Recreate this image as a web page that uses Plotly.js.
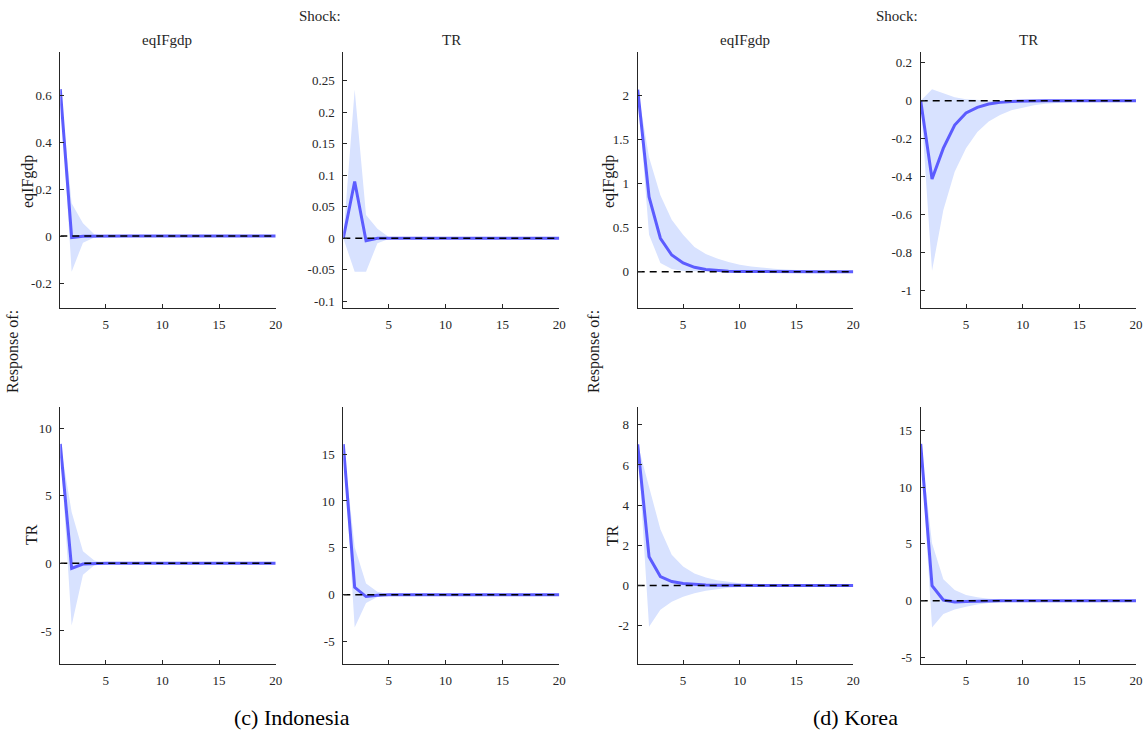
<!DOCTYPE html>
<html>
<head>
<meta charset="utf-8">
<script src="https://cdn.plot.ly/plotly-3.0.1.min.js"></script>
<style>
  html, body { margin: 0; padding: 0; background: #ffffff; }
  #chart { width: 1148px; height: 738px; }
</style>
</head>
<body>
<div id="chart"></div>
<script>
// ---------------- DATA ----------------
const periods = [1,2,3,4,5,6,7,8,9,10,11,12,13,14,15,16,17,18,19,20];
const variables = ["eqIFgdp", "TR"];
const countries = ["(c) Indonesia", "(d) Korea"];

// Indonesia: response of eqIFgdp to eqIFgdp shock
const idnEqEqMed = [0.625,-0.006,-0.001,0,0,0,0,0,0,0,0,0,0,0,0,0,0,0,0,0];
const idnEqEqLo  = [0.625,-0.152,-0.028,-0.006,-0.001,0,0,0,0,0,0,0,0,0,0,0,0,0,0,0];
const idnEqEqHi  = [0.625,0.14,0.054,0.008,0.001,0,0,0,0,0,0,0,0,0,0,0,0,0,0,0];
// Indonesia: response of eqIFgdp to TR shock
const idnEqTrMed = [0,0.09,-0.004,0,0,0,0,0,0,0,0,0,0,0,0,0,0,0,0,0];
const idnEqTrLo  = [0,-0.053,-0.053,-0.008,-0.001,0,0,0,0,0,0,0,0,0,0,0,0,0,0,0];
const idnEqTrHi  = [0,0.236,0.037,0.015,0.002,0,0,0,0,0,0,0,0,0,0,0,0,0,0,0];
// Indonesia: response of TR to eqIFgdp shock
const idnTrEqMed = [8.82,-0.37,-0.05,0,0,0,0,0,0,0,0,0,0,0,0,0,0,0,0,0];
const idnTrEqLo  = [8.82,-4.6,-0.85,-0.15,-0.02,0,0,0,0,0,0,0,0,0,0,0,0,0,0,0];
const idnTrEqHi  = [8.82,3.8,0.9,0.2,0.03,0,0,0,0,0,0,0,0,0,0,0,0,0,0,0];
// Indonesia: response of TR to TR shock
const idnTrTrMed = [16.07,0.78,-0.2,-0.05,0,0,0,0,0,0,0,0,0,0,0,0,0,0,0,0];
const idnTrTrLo  = [16.07,-3.5,-0.9,-0.25,-0.05,0,0,0,0,0,0,0,0,0,0,0,0,0,0,0];
const idnTrTrHi  = [16.07,5.1,1.2,0.3,0.05,0,0,0,0,0,0,0,0,0,0,0,0,0,0,0];

// Korea: response of eqIFgdp to eqIFgdp shock
const korEqEqMed = [2.07,0.85,0.38,0.19,0.10,0.05,0.025,0.012,0.006,0.003,0.0015,0.001,0,0,0,0,0,0,0,0];
const korEqEqLo  = [2.07,0.42,0.1,0.03,0.008,0.002,0.001,0,0,0,0,0,0,0,0,0,0,0,0,0];
const korEqEqHi  = [2.07,1.3,0.87,0.59,0.42,0.28,0.2,0.15,0.11,0.08,0.06,0.045,0.033,0.024,0.017,0.012,0.008,0.006,0.004,0.003];
// Korea: response of eqIFgdp to TR shock
const korEqTrMed = [0,-0.412,-0.25,-0.128,-0.065,-0.035,-0.018,-0.009,-0.004,-0.002,-0.001,0,0,0,0,0,0,0,0,0];
const korEqTrLo  = [0,-0.895,-0.575,-0.374,-0.25,-0.165,-0.11,-0.075,-0.05,-0.035,-0.024,-0.016,-0.011,-0.008,-0.005,-0.004,-0.003,-0.002,-0.001,-0.001];
const korEqTrHi  = [0,0.06,0.039,0.018,0.007,0.003,0.001,0,0,0,0,0,0,0,0,0,0,0,0,0];
// Korea: response of TR to eqIFgdp shock
const korTrEqMed = [7.03,1.44,0.45,0.2,0.1,0.05,0.025,0.012,0.006,0.003,0.0015,0,0,0,0,0,0,0,0,0];
const korTrEqLo  = [7.03,-2.05,-1.2,-0.8,-0.55,-0.38,-0.25,-0.17,-0.11,-0.07,-0.05,-0.033,-0.022,-0.015,-0.01,-0.007,-0.005,-0.003,-0.002,-0.001];
const korTrEqHi  = [7.03,4.9,2.8,1.53,0.95,0.6,0.4,0.27,0.18,0.12,0.08,0.05,0.035,0.024,0.016,0.011,0.008,0.005,0.004,0.003];
// Korea: response of TR to TR shock
const korTrTrMed = [13.82,1.33,0.06,-0.12,-0.08,-0.04,-0.02,-0.01,-0.005,-0.002,-0.001,0,0,0,0,0,0,0,0,0];
const korTrTrLo  = [13.82,-2.36,-1.18,-0.77,-0.53,-0.33,-0.2,-0.12,-0.07,-0.04,-0.025,-0.015,-0.009,-0.005,-0.003,-0.002,-0.001,-0.001,0,0];
const korTrTrHi  = [13.82,5.07,1.89,0.94,0.5,0.3,0.17,0.1,0.06,0.035,0.02,0.012,0.007,0.004,0.002,0.001,0.001,0,0,0];

// tick labels
const xTicks = [5,10,15,20];
const yTicksIdnEqEq = [-0.2,0,0.2,0.4,0.6];
const yTicksIdnEqTr = [-0.1,-0.05,0,0.05,0.1,0.15,0.2,0.25];
const yTicksIdnTrEq = [-5,0,5,10];
const yTicksIdnTrTr = [-5,0,5,10,15];
const yTicksKorEqEq = [0,0.5,1,1.5,2];
const yTicksKorEqTr = [-1,-0.8,-0.6,-0.4,-0.2,0,0.2];
const yTicksKorTrEq = [-2,0,2,4,6,8];
const yTicksKorTrTr = [-5,0,5,10,15];

// ---------------- LAYOUT ----------------
const W = 1148, H = 738;
const px = v => v / W;
const py = v => 1 - v / H;

const colX = [[60.3,275.7],[343.3,559.3],[637.7,853.3],[920.7,1136]];
const rowY = [[52,308],[407.3,664]];

const panels = [
  {col:0,row:0,med:idnEqEqMed,lo:idnEqEqLo,hi:idnEqEqHi,ticks:yTicksIdnEqEq,range:[-0.306,0.783]},
  {col:1,row:0,med:idnEqTrMed,lo:idnEqTrLo,hi:idnEqTrHi,ticks:yTicksIdnEqTr,range:[-0.1106,0.2955]},
  {col:0,row:1,med:idnTrEqMed,lo:idnTrEqLo,hi:idnTrEqHi,ticks:yTicksIdnTrEq,range:[-7.44,11.53]},
  {col:1,row:1,med:idnTrTrMed,lo:idnTrTrLo,hi:idnTrTrHi,ticks:yTicksIdnTrTr,range:[-7.4,20.0]},
  {col:2,row:0,med:korEqEqMed,lo:korEqEqLo,hi:korEqEqHi,ticks:yTicksKorEqEq,range:[-0.4125,2.497]},
  {col:3,row:0,med:korEqTrMed,lo:korEqTrLo,hi:korEqTrHi,ticks:yTicksKorEqTr,range:[-1.0905,0.256]},
  {col:2,row:1,med:korTrEqMed,lo:korTrEqLo,hi:korTrEqHi,ticks:yTicksKorTrEq,range:[-3.9,8.87]},
  {col:3,row:1,med:korTrTrMed,lo:korTrTrLo,hi:korTrTrHi,ticks:yTicksKorTrTr,range:[-5.58,17.04]}
];

const LINE = 'rgb(92,92,255)';
const BAND = 'rgb(216,226,255)';
const AXC = '#262626';
const SERIF = 'Liberation Serif, Times New Roman, serif';
const tickFont = {family: SERIF, size: 13, color: AXC};

const traces = [];
const layout = {
  width: W, height: H,
  margin: {l:0, r:0, t:0, b:0},
  paper_bgcolor: '#ffffff',
  plot_bgcolor: 'rgba(0,0,0,0)',
  showlegend: false,
  annotations: [],
  font: tickFont
};

panels.forEach((p, i) => {
  const n = i + 1;
  const xa = 'x' + (n === 1 ? '' : n);
  const ya = 'y' + (n === 1 ? '' : n);
  traces.push({x: periods, y: p.lo, xaxis: xa, yaxis: ya, type: 'scatter', mode: 'lines',
               line: {width: 0, color: BAND}, hoverinfo: 'skip'});
  traces.push({x: periods, y: p.hi, xaxis: xa, yaxis: ya, type: 'scatter', mode: 'lines',
               fill: 'tonexty', fillcolor: BAND, line: {width: 0, color: BAND}, hoverinfo: 'skip'});
  traces.push({x: periods, y: p.med, xaxis: xa, yaxis: ya, type: 'scatter', mode: 'lines',
               line: {width: 3, color: LINE}});
  traces.push({x: [periods[0], periods[periods.length-1]], y: [0, 0], xaxis: xa, yaxis: ya,
               type: 'scatter', mode: 'lines', line: {width: 1.5, color: '#000000', dash: '7px,5px'}});

  const xk = 'xaxis' + (n === 1 ? '' : n);
  const yk = 'yaxis' + (n === 1 ? '' : n);
  layout[xk] = {
    domain: [px(colX[p.col][0]), px(colX[p.col][1])],
    anchor: ya,
    range: [periods[0], periods[periods.length-1]],
    tickmode: 'array', tickvals: xTicks, ticktext: xTicks.map(String),
    ticks: 'inside', ticklen: 4, tickcolor: AXC, tickwidth: 1,
    showline: true, linecolor: AXC, linewidth: 1,
    showgrid: false, zeroline: false, tickfont: tickFont,
    ticklabelstandoff: 4
  };
  layout[yk] = {
    domain: [py(rowY[p.row][1]), py(rowY[p.row][0])],
    anchor: xa,
    range: p.range,
    tickmode: 'array', tickvals: p.ticks, ticktext: p.ticks.map(String),
    ticks: 'inside', ticklen: 4, tickcolor: AXC, tickwidth: 1,
    showline: true, linecolor: AXC, linewidth: 1,
    showgrid: false, zeroline: false, tickfont: tickFont,
    ticklabelstandoff: 5
  };
});

function ann(text, x, y, opts) {
  layout.annotations.push(Object.assign({
    text: text, xref: 'paper', yref: 'paper', x: px(x), y: py(y),
    xanchor: 'center', yanchor: 'middle', showarrow: false,
    font: {family: SERIF, size: 15, color: AXC}
  }, opts || {}));
}

// column (shock) titles
ann(variables[0], 167, 40);
ann(variables[1], 451, 40);
ann(variables[0], 745, 40);
ann(variables[1], 1028, 40);
ann('Shock:', 320, 16);
ann('Shock:', 897, 16);

// row (response) titles
const rowFont = {family: SERIF, size: 16, color: '#1a1a1a'};
ann(variables[0], 28, 182, {textangle: -90, font: rowFont});
ann(variables[1], 31, 535, {textangle: -90, font: rowFont});
ann(variables[0], 609, 182, {textangle: -90, font: rowFont});
ann(variables[1], 612, 535, {textangle: -90, font: rowFont});
ann('Response of:', 13, 352, {textangle: -90, font: rowFont});
ann('Response of:', 594, 352, {textangle: -90, font: rowFont});

// captions
const capFont = {family: SERIF, size: 22, color: '#000000'};
ann(countries[0], 292, 717, {font: capFont});
ann(countries[1], 855, 717, {font: capFont});

Plotly.newPlot('chart', traces, layout, {staticPlot: true, displayModeBar: false});
</script>
</body>
</html>
